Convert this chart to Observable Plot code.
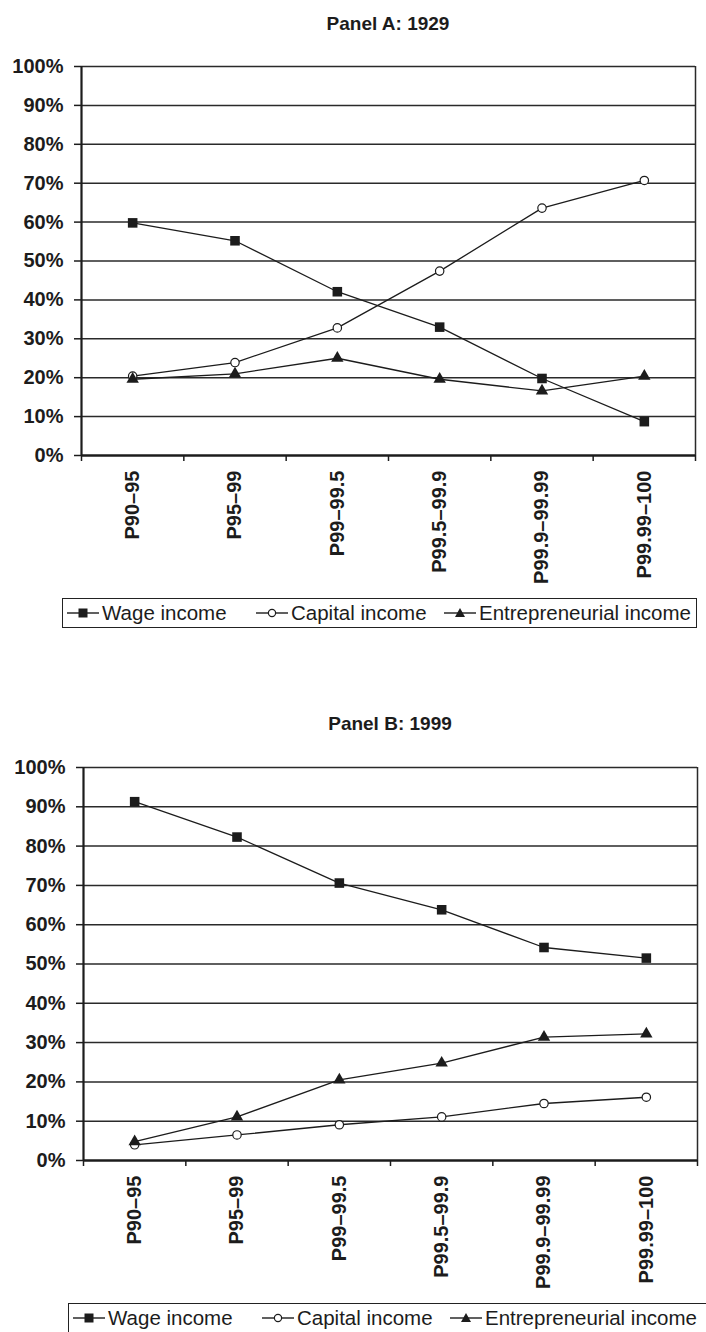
<!DOCTYPE html>
<html>
<head>
<meta charset="utf-8">
<script src="https://cdn.jsdelivr.net/npm/d3@7"></script>
<script src="https://cdn.jsdelivr.net/npm/@observablehq/plot@0.6"></script>
<style>
  body { margin: 0; background: #fff; }
  #root { position: relative; width: 706px; height: 1332px; overflow: hidden;
          font-family: "Liberation Sans", Arial, Helvetica, sans-serif; color: #1c1c1c; }
  .panel { position: absolute; left: 0; }
  .title { position: absolute; font-weight: bold; font-size: 19px; white-space: nowrap;
           transform: translate(-50%, -50%); }
  .legend { position: absolute; height: 28px; border: 1.5px solid #222; background: #fff; }
  .legend .item { position: absolute; top: 0; height: 28px; display: flex; align-items: center;
                  font-size: 20.5px; white-space: nowrap; }
  .legend svg { display: block; }
</style>
</head>
<body>
<div id="root"></div>
<script>
// ---------- data ----------
const categories = ["P90\u201395", "P95\u201399", "P99\u201399.5", "P99.5\u201399.9", "P99.9\u201399.99", "P99.99\u2013100"];
const seriesNames = ["Wage income", "Capital income", "Entrepreneurial income"];
const yTicks = [0, 10, 20, 30, 40, 50, 60, 70, 80, 90, 100];

const wage1929    = [59.8, 55.2, 42.1, 33.0, 19.8, 8.7];
const capital1929 = [20.4, 23.9, 32.8, 47.4, 63.6, 70.7];
const entre1929   = [19.6, 21.0, 25.0, 19.6, 16.6, 20.4];

const wage1999    = [91.3, 82.3, 70.6, 63.8, 54.2, 51.5];
const capital1999 = [4.0, 6.5, 9.1, 11.1, 14.5, 16.1];
const entre1999   = [4.8, 11.1, 20.5, 24.8, 31.4, 32.2];

// ---------- drawing ----------
const root = document.getElementById("root");
const INK = "#1c1c1c";

function buildRows(seriesValues) {
  const rows = [];
  seriesValues.forEach((vals, k) => {
    vals.forEach((v, i) => rows.push({series: seriesNames[k], pos: i + 0.5, value: v}));
  });
  return rows;
}

function drawPanel(cfg) {
  const rows = buildRows(cfg.values);
  const n = categories.length;
  const chart = Plot.plot({
    width: 706,
    height: cfg.height,
    marginLeft: cfg.marginLeft,
    marginRight: cfg.marginRight,
    marginTop: cfg.marginTop,
    marginBottom: cfg.marginBottom,
    x: {type: "linear", domain: [0, n], axis: null, label: null},
    y: {type: "linear", domain: [0, 100], axis: null, label: null},
    style: {fontFamily: '"Liberation Sans", Arial, Helvetica, sans-serif', fontSize: "20px",
            fontWeight: "bold", color: INK, background: "#fff", overflow: "visible"},
    marks: [
      // gridlines incl. top border
      Plot.ruleY(yTicks.filter(t => t > 0), {stroke: "#2a2a2a", strokeWidth: 1.5}),
      // right border
      Plot.ruleX([n], {stroke: "#2a2a2a", strokeWidth: 1.5}),
      // y axis ticks + labels
      Plot.axisY({ticks: yTicks, tickFormat: d => d + "%", tickSize: 7, tickPadding: 11, label: null,
                  stroke: INK, strokeWidth: 1.5, fill: INK}),
      // x axis tick marks at category boundaries
      Plot.axisX({ticks: d3.range(n + 1), tickFormat: () => "", tickSize: 6, label: null,
                  stroke: INK, strokeWidth: 1.5}),
      // rotated category labels
      Plot.text(categories, {x: (d, i) => i + 0.5, frameAnchor: "bottom", dy: 15, rotate: -90,
                             textAnchor: "end", lineAnchor: "middle", text: d => d, fill: INK}),
      // axis lines
      Plot.ruleX([0], {stroke: INK, strokeWidth: 2.2}),
      Plot.ruleY([0], {stroke: INK, strokeWidth: 2.5}),
      // series lines
      Plot.line(rows, {x: "pos", y: "value", z: "series", stroke: INK, strokeWidth: 1.3}),
      // markers
      Plot.dot(rows.filter(d => d.series === seriesNames[0]),
               {x: "pos", y: "value", symbol: "square", r: 5.4, fill: INK, stroke: "none"}),
      Plot.dot(rows.filter(d => d.series === seriesNames[1]),
               {x: "pos", y: "value", symbol: "circle", r: 4.2, fill: "#fff", stroke: INK, strokeWidth: 1.2}),
      Plot.dot(rows.filter(d => d.series === seriesNames[2]),
               {x: "pos", y: "value", symbol: "triangle", r: 4.6, fill: INK, stroke: "none"})
    ]
  });
  const wrap = document.createElement("div");
  wrap.className = "panel";
  wrap.style.top = cfg.top + "px";
  wrap.appendChild(chart);
  root.appendChild(wrap);

  const t = document.createElement("div");
  t.className = "title";
  t.textContent = cfg.title;
  t.style.left = cfg.titleX + "px";
  t.style.top = cfg.titleY + "px";
  root.appendChild(t);

  drawLegend(cfg.legendLeft, cfg.legendTop, cfg.legendWidth);
}

function legendIcon(kind) {
  const svg = d3.create("svg").attr("width", 32).attr("height", 16);
  svg.append("line").attr("x1", 0).attr("x2", 32).attr("y1", 8).attr("y2", 8)
     .attr("stroke", INK).attr("stroke-width", 1.4);
  if (kind === 0) {
    svg.append("rect").attr("x", 11.5).attr("y", 3.5).attr("width", 9).attr("height", 9).attr("fill", INK);
  } else if (kind === 1) {
    svg.append("circle").attr("cx", 16).attr("cy", 8).attr("r", 3.6)
       .attr("fill", "#fff").attr("stroke", INK).attr("stroke-width", 1.2);
  } else {
    svg.append("path").attr("d", "M16,3 L21,12 L11,12 Z").attr("fill", INK);
  }
  return svg.node();
}

function drawLegend(left, top, width) {
  const box = document.createElement("div");
  box.className = "legend";
  box.style.left = left + "px";
  box.style.top = top + "px";
  box.style.width = width + "px";
  const offsets = [4, 193, 381];
  seriesNames.forEach((name, k) => {
    const item = document.createElement("div");
    item.className = "item";
    item.style.left = offsets[k] + "px";
    item.appendChild(legendIcon(k));
    const span = document.createElement("span");
    span.style.marginLeft = "3px";
    span.textContent = name;
    item.appendChild(span);
    box.appendChild(item);
  });
  root.appendChild(box);
}

drawPanel({
  title: "Panel A: 1929", titleX: 388, titleY: 24,
  values: [wage1929, capital1929, entre1929],
  top: 0, height: 600, marginTop: 66, marginBottom: 145, marginLeft: 81, marginRight: 11,
  legendLeft: 62, legendTop: 598, legendWidth: 633
});

drawPanel({
  title: "Panel B: 1999", titleX: 390, titleY: 724,
  values: [wage1999, capital1999, entre1999],
  top: 700, height: 600, marginTop: 67, marginBottom: 140, marginLeft: 83, marginRight: 9,
  legendLeft: 68, legendTop: 1303, legendWidth: 660
});
</script>
</body>
</html>
